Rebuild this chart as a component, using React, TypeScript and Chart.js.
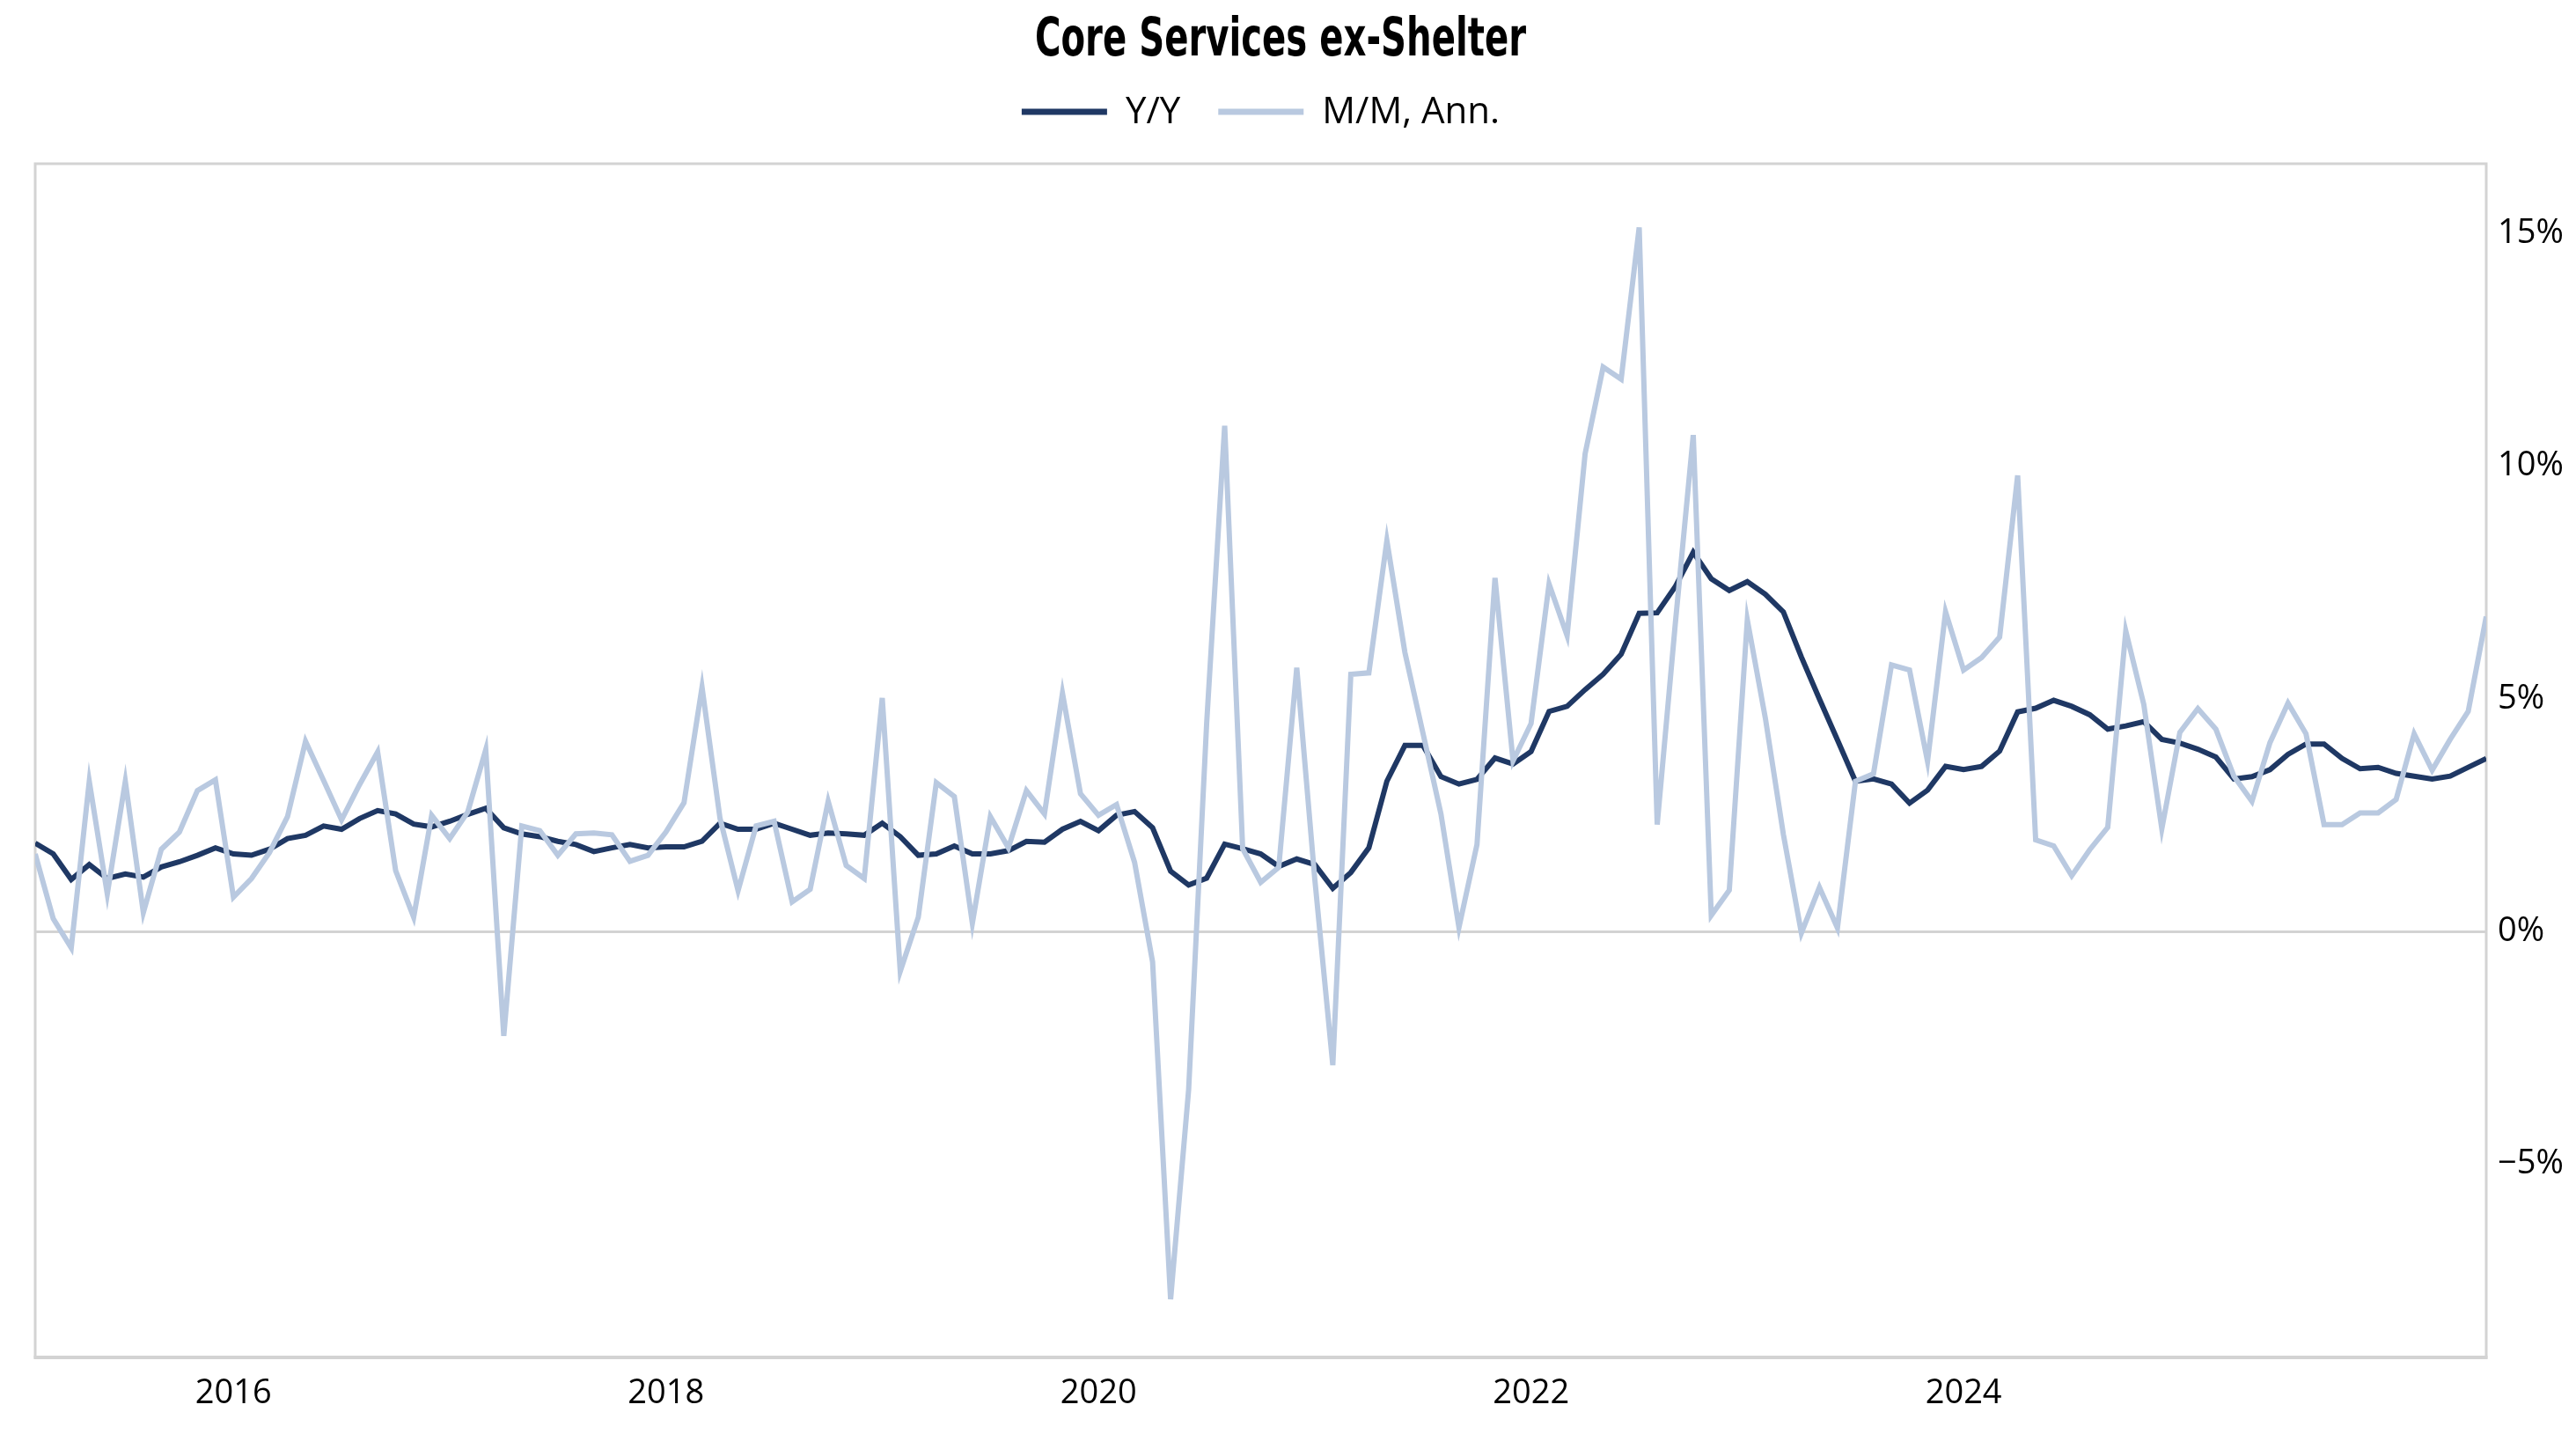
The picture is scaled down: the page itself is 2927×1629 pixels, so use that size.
import { useEffect, useRef } from "react";
import { Chart, registerables } from "chart.js";

Chart.register(...registerables);

// ---- data -------------------------------------------------------------
const chartTitle = "Core Services ex-Shelter";
const seriesNames = ["Y/Y", "M/M, Ann."];

// Monthly observations starting January 2015 (plotted at month end).
const firstYear = 2015;

// Year-over-year change, %
const yoy = [
  1.90, 1.67, 1.12, 1.44, 1.14, 1.24, 1.17, 1.39, 1.50, 1.64, 1.80, 1.67,
  1.64, 1.77, 2.00, 2.07, 2.27, 2.20, 2.43, 2.60, 2.53, 2.31, 2.25, 2.37,
  2.52, 2.65, 2.23, 2.10, 2.04, 1.94, 1.87, 1.72, 1.80, 1.87, 1.80, 1.82,
  1.82, 1.94, 2.33, 2.20, 2.20, 2.33, 2.20, 2.07, 2.12, 2.10, 2.07, 2.33,
  2.04, 1.64, 1.67, 1.84, 1.67, 1.67, 1.74, 1.94, 1.92, 2.20, 2.37, 2.17,
  2.50, 2.58, 2.23, 1.30, 1.00, 1.15, 1.88, 1.78, 1.67, 1.40, 1.56, 1.44,
  0.93, 1.27, 1.80, 3.23, 4.00, 4.00, 3.33, 3.17, 3.27, 3.73, 3.60, 3.87,
  4.73, 4.84, 5.20, 5.53, 5.96, 6.84, 6.85, 7.41, 8.15, 7.58, 7.33, 7.52,
  7.25, 6.87, 5.90, 5.00, 4.12, 3.23, 3.28, 3.17, 2.76, 3.04, 3.55, 3.48,
  3.55, 3.88, 4.72, 4.80, 4.97, 4.84, 4.66, 4.35, 4.42, 4.51, 4.13, 4.05,
  3.92, 3.75, 3.28, 3.33, 3.48, 3.81, 4.03, 4.03, 3.72, 3.50, 3.53, 3.40,
  3.34, 3.28, 3.34, 3.53, 3.72,
];

// Month-over-month change, annualized, %
const momAnn = [
  1.67, 0.28, -0.35, 3.23, 0.81, 3.23, 0.41, 1.77, 2.14, 3.03, 3.26, 0.74,
  1.14, 1.70, 2.47, 4.09, 3.25, 2.40, 3.16, 3.86, 1.31, 0.31, 2.50, 2.00,
  2.57, 3.91, -2.24, 2.27, 2.17, 1.64, 2.10, 2.12, 2.08, 1.51, 1.64, 2.14,
  2.77, 5.25, 2.43, 0.88, 2.27, 2.37, 0.64, 0.91, 2.80, 1.42, 1.14, 5.02,
  -0.85, 0.31, 3.20, 2.90, 0.18, 2.47, 1.80, 3.03, 2.53, 5.12, 2.96, 2.50,
  2.73, 1.49, -0.65, -7.90, -3.40, 4.47, 10.87, 1.78, 1.06, 1.38, 5.67, 1.13,
  -2.87, 5.53, 5.56, 8.40, 6.00, 4.27, 2.53, 0.09, 1.87, 7.60, 3.67, 4.47,
  7.47, 6.36, 10.27, 12.13, 11.87, 15.13, 2.30, 6.60, 10.67, 0.35, 0.89, 6.70,
  4.59, 2.09, -0.03, 0.95, 0.08, 3.23, 3.39, 5.73, 5.62, 3.66, 6.87, 5.62,
  5.89, 6.33, 9.80, 1.97, 1.84, 1.20, 1.76, 2.24, 6.46, 4.88, 2.21, 4.28,
  4.79, 4.35, 3.34, 2.80, 4.06, 4.91, 4.25, 2.30, 2.30, 2.55, 2.55, 2.84,
  4.25, 3.47, 4.13, 4.73, 6.77,
];

const yearTicks = [2016, 2018, 2020, 2022, 2024];
const pctTicks = [-5, 0, 5, 10, 15];

// ---- styling ----------------------------------------------------------
const NAVY = "#1f3864";
const LIGHT = "#b9c9e0";
const FRAME = "#d3d3d3";
const TEXT_FONT = "'Open Sans', 'Noto Sans', 'DejaVu Sans', sans-serif";
const TITLE_FONT =
  "'Liberation Sans Narrow', 'DejaVu Sans Condensed', 'Roboto Condensed', 'Open Sans', sans-serif";
const seriesColors = [NAVY, LIGHT];

const W = 2911;
const H = 1613;
const TITLE_WIDTH = 558; // condensed title run width

// month-end position on a fractional-year axis
const monthX = (i: number) => firstYear + (i + 1) / 12;

const framePlugin = {
  id: "plotFrame",
  beforeDatasetsDraw(chart: any) {
    const { ctx, chartArea: a } = chart;
    ctx.save();
    ctx.strokeStyle = FRAME;
    ctx.lineWidth = 3;
    ctx.strokeRect(a.left, a.top, a.right - a.left, a.bottom - a.top);
    ctx.lineWidth = 4;
    ctx.beginPath();
    ctx.moveTo(a.left - 1.5, a.bottom);
    ctx.lineTo(a.right + 1.5, a.bottom);
    ctx.stroke();
    ctx.restore();
  },
};

const headerPlugin = {
  id: "header",
  afterDraw(chart: any) {
    const { ctx, chartArea: a } = chart;
    ctx.save();
    ctx.fillStyle = "#000";
    ctx.textBaseline = "middle";

    // title, squeezed to a condensed run
    ctx.save();
    ctx.font = `bold 60px ${TITLE_FONT}`;
    ctx.textAlign = "center";
    const tw = ctx.measureText(chartTitle).width;
    const sx = Math.min(1, TITLE_WIDTH / tw);
    ctx.translate(1447, 39);
    ctx.scale(sx, 1);
    ctx.fillText(chartTitle, 0, 0);
    ctx.restore();

    // legend
    ctx.font = `42px ${TEXT_FONT}`;
    ctx.textAlign = "left";
    const sample = 97;
    const gapText = 21;
    const gapItem = 43;
    const widths = seriesNames.map((n) => ctx.measureText(n).width);
    const total =
      widths.reduce((s, w) => s + sample + gapText + w, 0) +
      gapItem * (seriesNames.length - 1);
    let x = (a.left + a.right) / 2 - total / 2;
    const y = 119;
    seriesNames.forEach((name, k) => {
      ctx.strokeStyle = seriesColors[k];
      ctx.lineWidth = 7;
      ctx.beginPath();
      ctx.moveTo(x, y);
      ctx.lineTo(x + sample, y);
      ctx.stroke();
      x += sample + gapText;
      ctx.fillText(name, x, y + 1);
      x += widths[k] + gapItem;
    });
    ctx.restore();
  },
};

export default function App() {
  const canvasRef = useRef<HTMLCanvasElement | null>(null);

  useEffect(() => {
    const canvas = canvasRef.current;
    if (!canvas) return;

    const chart = new Chart(canvas, {
      type: "line",
      data: {
        datasets: [
          {
            label: seriesNames[0],
            data: yoy.map((v, i) => ({ x: monthX(i), y: v })),
            borderColor: NAVY,
            borderWidth: 6,
            pointRadius: 0,
            tension: 0,
            order: 1,
          },
          {
            label: seriesNames[1],
            data: momAnn.map((v, i) => ({ x: monthX(i), y: v })),
            borderColor: LIGHT,
            borderWidth: 6,
            pointRadius: 0,
            tension: 0,
            order: 0,
          },
        ],
      },
      options: {
        animation: false,
        responsive: true,
        maintainAspectRatio: false,
        devicePixelRatio: 1,
        layout: { padding: { left: 32, top: 178, right: 0, bottom: 0 } },
        plugins: {
          legend: { display: false },
          title: { display: false },
          tooltip: { enabled: false },
        },
        events: [],
        scales: {
          x: {
            type: "linear",
            min: monthX(0),
            max: monthX(yoy.length - 1),
            afterBuildTicks: (s: any) => {
              s.ticks = yearTicks.map((v) => ({ value: v }));
            },
            afterFit: (s: any) => {
              s.height = 79;
            },
            grid: { display: false, drawTicks: false },
            border: { display: false },
            ticks: {
              padding: 18,
              color: "#000",
              maxRotation: 0,
              autoSkip: false,
              font: { family: TEXT_FONT, size: 38 },
              callback: (v: any) => String(v),
            },
          },
          y: {
            position: "right",
            min: -9.15,
            max: 16.5,
            afterBuildTicks: (s: any) => {
              s.ticks = pctTicks.map((v) => ({ value: v }));
            },
            afterFit: (s: any) => {
              s.width = 94;
            },
            grid: {
              color: (c: any) =>
                c.tick && c.tick.value === 0 ? FRAME : "rgba(0,0,0,0)",
              lineWidth: 3,
              drawTicks: false,
            },
            border: { display: false },
            ticks: {
              padding: 13,
              color: "#000",
              font: { family: TEXT_FONT, size: 38 },
              callback: (v: any) =>
                (v < 0 ? "\u2212" + Math.abs(v) : String(v)) + "%",
            },
          },
        },
      },
      plugins: [framePlugin, headerPlugin],
    });

    return () => chart.destroy();
  }, []);

  return (
    <div style={{ position: "relative", width: W, height: H }}>
      <canvas ref={canvasRef} />
    </div>
  );
}
